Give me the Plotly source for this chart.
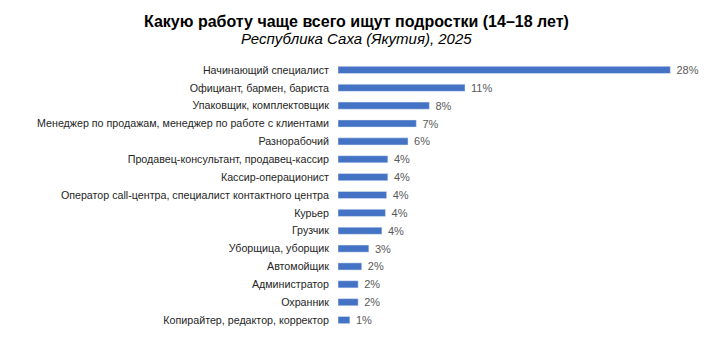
import plotly.graph_objects as go

categories = [
    "Начинающий специалист",
    "Официант, бармен, бариста",
    "Упаковщик, комплектовщик",
    "Менеджер по продажам, менеджер по работе с клиентами",
    "Разнорабочий",
    "Продавец-консультант, продавец-кассир",
    "Кассир-операционист",
    "Оператор call-центра, специалист контактного центра",
    "Курьер",
    "Грузчик",
    "Уборщица, уборщик",
    "Автомойщик",
    "Администратор",
    "Охранник",
    "Копирайтер, редактор, корректор",
]
values = [28.0, 10.7, 7.7, 6.6, 5.9, 4.2, 4.2, 4.1, 4.0, 3.7, 2.6, 2.0, 1.7, 1.7, 1.0]
labels = [f"\u00a0{round(v)}%" for v in values]

title_text = "Какую работу чаще всего ищут подростки (14–18 лет)"
subtitle_text = "Республика Саха (Якутия), 2025"

FONT = "Liberation Sans, Arial, sans-serif"
W, H = 712, 364
ML, MR, MT, MB = 338, 12, 61, 35
plot_w = W - ML - MR
plot_h = H - MT - MB

fig = go.Figure(go.Bar(
    x=values,
    y=categories,
    orientation="h",
    marker=dict(color="#4472C4"),
    text=labels,
    textposition="outside",
    constraintext="none",
    textfont=dict(family=FONT, size=11, color="#595959"),
    cliponaxis=False,
    width=0.4,
))

fig.update_layout(
    width=W,
    height=H,
    paper_bgcolor="white",
    plot_bgcolor="white",
    margin=dict(l=ML, r=MR, t=MT, b=MB, autoexpand=False),
    showlegend=False,
    font=dict(family=FONT, color="#262626"),
    xaxis=dict(range=[0, 30.5], visible=False, fixedrange=True),
    yaxis=dict(
        autorange="reversed",
        automargin=False,
        showline=False,
        showgrid=False,
        ticks="",
        ticklabelstandoff=8,
        tickfont=dict(size=10.7, color="#262626"),
    ),
)

cx = (W / 2 - ML) / plot_w
fig.add_annotation(text=f"<b>{title_text}</b>", xref="paper", yref="paper",
                   x=cx, y=1 + (MT - 21) / plot_h, xanchor="center", yanchor="middle",
                   showarrow=False, font=dict(family=FONT, size=16, color="black"))
fig.add_annotation(text=f"<i>{subtitle_text}</i>", xref="paper", yref="paper",
                   x=cx, y=1 + (MT - 38) / plot_h, xanchor="center", yanchor="middle",
                   showarrow=False, font=dict(family=FONT, size=15, color="black"))

fig.write_html("out.html", config={"displayModeBar": False},
               post_script="document.body.style.margin='0';")
